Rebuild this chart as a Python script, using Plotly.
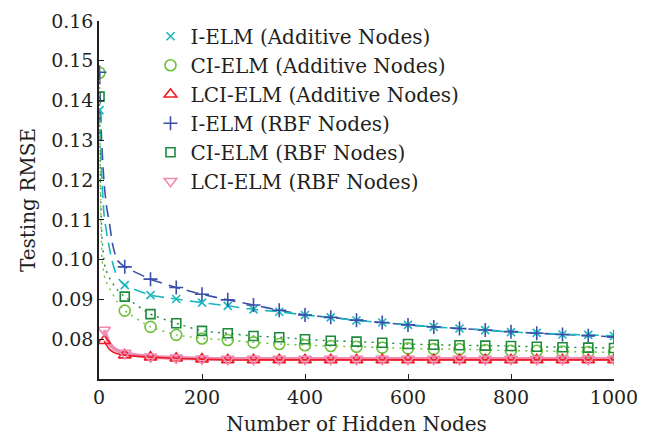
import plotly.graph_objects as go

# Marker positions (hidden nodes)
x_nodes = [50, 100, 150, 200, 250, 300, 350, 400, 450, 500, 550, 600, 650, 700, 750, 800, 850, 900, 950, 1000]

# ---- I-ELM (Additive Nodes)
ielm_add_x0 = [1]
ielm_add_y0 = [0.1376]
ielm_add_early_x = [5, 10, 16, 25, 35]
ielm_add_early_y = [0.1220, 0.1110, 0.1058, 0.0999, 0.0957]
ielm_add = [0.0936, 0.0911, 0.0901, 0.0892, 0.0884, 0.0875, 0.0869, 0.0861, 0.0855, 0.0847,
            0.0842, 0.0836, 0.0831, 0.0827, 0.0823, 0.0818, 0.0816, 0.0812, 0.0811, 0.0808]

# ---- CI-ELM (Additive Nodes)
ciadd_x0 = [1]
ciadd_y0 = [0.1470]
ciadd_early_x = [3, 6, 12, 22, 35]
ciadd_early_y = [0.1150, 0.1000, 0.0950, 0.0924, 0.0895]
ciadd = [0.0872, 0.0831, 0.0811, 0.0802, 0.0798, 0.0792, 0.0788, 0.0785, 0.0783, 0.0781,
         0.0779, 0.0777, 0.0775, 0.0775, 0.0773, 0.0771, 0.0771, 0.0769, 0.0768, 0.0767]

# ---- LCI-ELM (Additive Nodes)
lciadd_x0 = [10]
lciadd_y0 = [0.0796]
lciadd_early_x = [20, 30, 40]
lciadd_early_y = [0.0775, 0.0766, 0.0762]
lciadd = [0.0760, 0.0755, 0.0752, 0.0750, 0.0748, 0.0748, 0.0748, 0.0748, 0.0748, 0.0748,
          0.0748, 0.0748, 0.0748, 0.0748, 0.0748, 0.0748, 0.0748, 0.0748, 0.0748, 0.0748]

# ---- I-ELM (RBF Nodes)
ielm_rbf_x0 = [1]
ielm_rbf_y0 = [0.1471]
ielm_rbf_early_x = [5, 10, 15, 20, 26, 35]
ielm_rbf_early_y = [0.1300, 0.1190, 0.1130, 0.1095, 0.1041, 0.0999]
ielm_rbf = [0.0982, 0.0951, 0.0930, 0.0913, 0.0899, 0.0886, 0.0873, 0.0861, 0.0855, 0.0848,
            0.0842, 0.0836, 0.0831, 0.0827, 0.0823, 0.0819, 0.0815, 0.0812, 0.0809, 0.0806]

# ---- CI-ELM (RBF Nodes)
cirbf_x0 = [1]
cirbf_y0 = [0.1410]
cirbf_early_x = [3, 6, 12, 22, 35]
cirbf_early_y = [0.1180, 0.1050, 0.0980, 0.0950, 0.0925]
cirbf = [0.0907, 0.0863, 0.0840, 0.0821, 0.0815, 0.0808, 0.0805, 0.0800, 0.0796, 0.0794,
         0.0791, 0.0788, 0.0786, 0.0785, 0.0784, 0.0783, 0.0781, 0.0780, 0.0779, 0.0778]

# ---- LCI-ELM (RBF Nodes)
lcirbf_x0 = [10]
lcirbf_y0 = [0.0823]
lcirbf_early_x = [20, 30, 40]
lcirbf_early_y = [0.0790, 0.0776, 0.0769]
lcirbf = [0.0765, 0.0756, 0.0753, 0.0751, 0.0750, 0.0750, 0.0750, 0.0750, 0.0750, 0.0750,
          0.0750, 0.0750, 0.0750, 0.0750, 0.0750, 0.0750, 0.0750, 0.0750, 0.0750, 0.0750]

names = ["I-ELM (Additive Nodes)", "CI-ELM (Additive Nodes)", "LCI-ELM (Additive Nodes)",
         "I-ELM (RBF Nodes)", "CI-ELM (RBF Nodes)", "LCI-ELM (RBF Nodes)"]

x_ticks = [0, 200, 400, 600, 800, 1000]
y_ticks = [0.08, 0.09, 0.10, 0.11, 0.12, 0.13, 0.14, 0.15, 0.16]

FONT = "DejaVu Serif"
TICK_FS = 19
TEXT_FS = 20

series = [
    (names[3], ielm_rbf_x0, ielm_rbf_y0, ielm_rbf_early_x, ielm_rbf_early_y, ielm_rbf, "#3a4fa8", "12px,7px", 1.6, "cross-thin-open", 10),
    (names[0], ielm_add_x0, ielm_add_y0, ielm_add_early_x, ielm_add_early_y, ielm_add, "#19b8be", "12px,7px", 1.6, "x-thin-open", 8),
    (names[4], cirbf_x0, cirbf_y0, cirbf_early_x, cirbf_early_y, cirbf, "#1f8a3c", "2px,5px", 1.4, "square-open", 9),
    (names[1], ciadd_x0, ciadd_y0, ciadd_early_x, ciadd_early_y, ciadd, "#6cc23a", "2px,5px", 1.4, "circle-open", 11),
    (names[5], lcirbf_x0, lcirbf_y0, lcirbf_early_x, lcirbf_early_y, lcirbf, "#f08cb4", "solid", 4.0, "triangle-down-open", 11),
    (names[2], lciadd_x0, lciadd_y0, lciadd_early_x, lciadd_early_y, lciadd, "#ee1c24", "solid", 1.6, "triangle-up-open", 11),
]

fig = go.Figure()
marker_traces = {}
for name, x0, y0, ex, ey, vals, color, dash, lw, sym, size in series:
    lx = x0 + ex + x_nodes
    ly = y0 + ey + vals
    fig.add_trace(go.Scatter(x=lx, y=ly, mode="lines", showlegend=False, hoverinfo="skip",
                             line=dict(color=color, width=lw, dash=dash, shape="spline", smoothing=0.5)))
    marker_traces[name] = go.Scatter(
        x=x0 + x_nodes, y=y0 + vals, mode="markers", name=name,
        marker=dict(symbol=sym, size=size, color=color, line=dict(color=color, width=1.6)))

for name in names:
    fig.add_trace(marker_traces[name])

fig.update_layout(
    width=653, height=437,
    margin=dict(l=98.5, r=39, t=21, b=58),
    paper_bgcolor="white", plot_bgcolor="white",
    font=dict(family=FONT, size=TICK_FS, color="#231f20"),
    showlegend=True,
    legend=dict(x=0.1, y=1.012, xanchor="left", yanchor="top", bgcolor="rgba(0,0,0,0)",
                font=dict(family=FONT, size=TEXT_FS, color="#231f20"), itemwidth=30, tracegroupgap=0),
    xaxis=dict(range=[0, 1000], tickvals=x_ticks, ticktext=[str(v) for v in x_ticks],
               showgrid=False, zeroline=False, showline=True, linecolor="#231f20", linewidth=1.5,
               ticks="inside", ticklen=5, tickcolor="#231f20", tickwidth=1.2, automargin=False,
               title=dict(text="Number of Hidden Nodes", standoff=10, font=dict(size=TEXT_FS))),
    yaxis=dict(range=[0.07, 0.16], tickvals=y_ticks, tickformat=".2f", automargin=False,
               showgrid=False, zeroline=False, showline=True, linecolor="#231f20", linewidth=1.5,
               ticks="inside", ticklen=5, tickcolor="#231f20", tickwidth=1.2,
               title=dict(text="Testing RMSE", standoff=10, font=dict(size=TEXT_FS))),
)

fig.write_html("out.html", config={"displayModeBar": False},
               post_script="document.body.style.margin='0px';")
